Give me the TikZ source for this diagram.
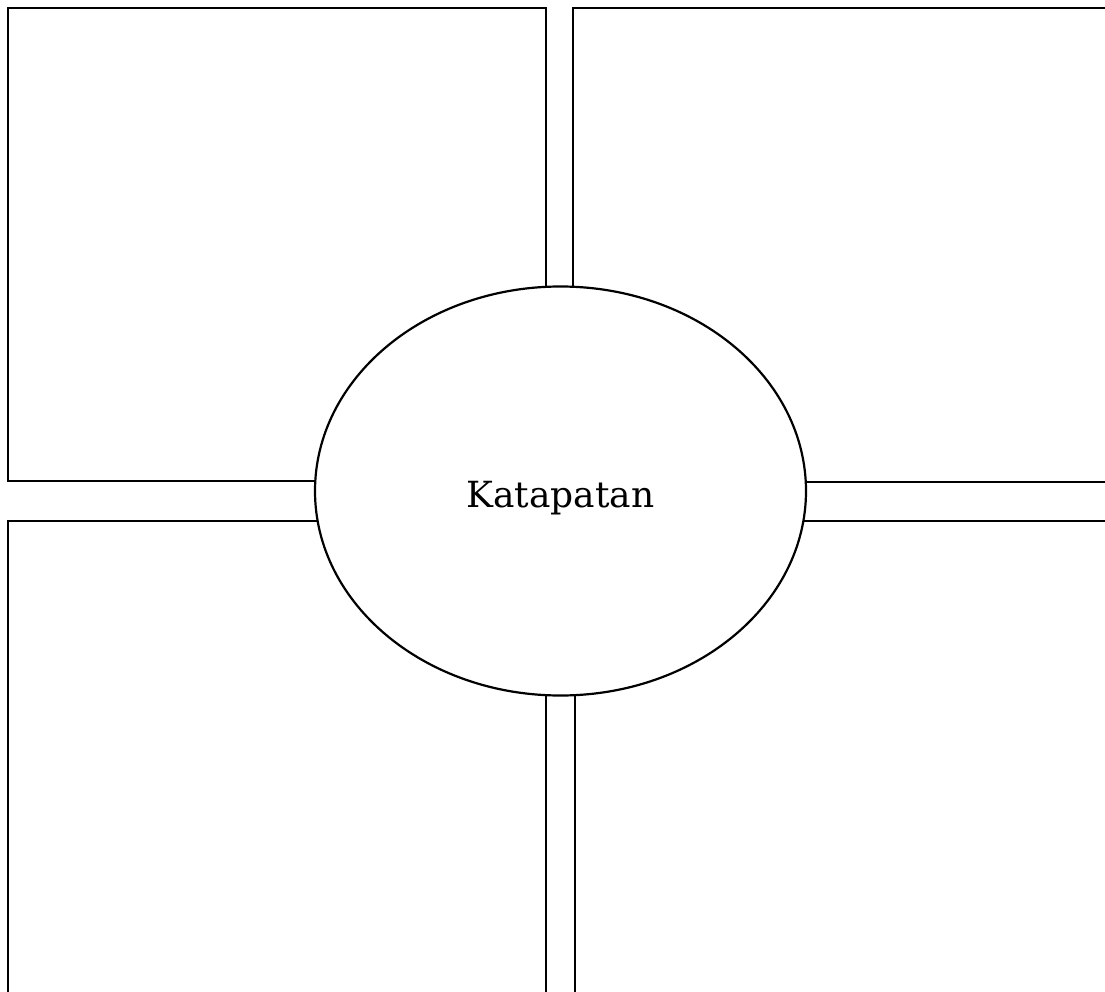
\documentclass[tikz,border=0pt]{standalone}
\usepackage{fontspec}
\setmainfont{DejaVu Serif}
\usetikzlibrary{shapes.geometric}
\begin{document}
\begin{tikzpicture}[x=1pt,y=-1pt,
  panel/.style={draw=black,line width=2.2pt},
  hub/.style={ellipse,draw=black,fill=white,line width=2.2pt,inner sep=0pt,
    minimum width=491pt,minimum height=409pt,text height=32pt,text depth=0pt,
    font=\fontsize{36}{42}\selectfont}]
\useasboundingbox (0,0) rectangle (1105,992);
\clip (0,0) rectangle (1105,992);
\draw[panel] (8,8) rectangle (546,481);
\draw[panel] (573,8) rectangle (1120,482);
\draw[panel] (8,521) rectangle (546,1010);
\draw[panel] (575,521) rectangle (1120,1010);
\node[hub] (c) at (560.5,491) {Katapatan};
\end{tikzpicture}
\end{document}
